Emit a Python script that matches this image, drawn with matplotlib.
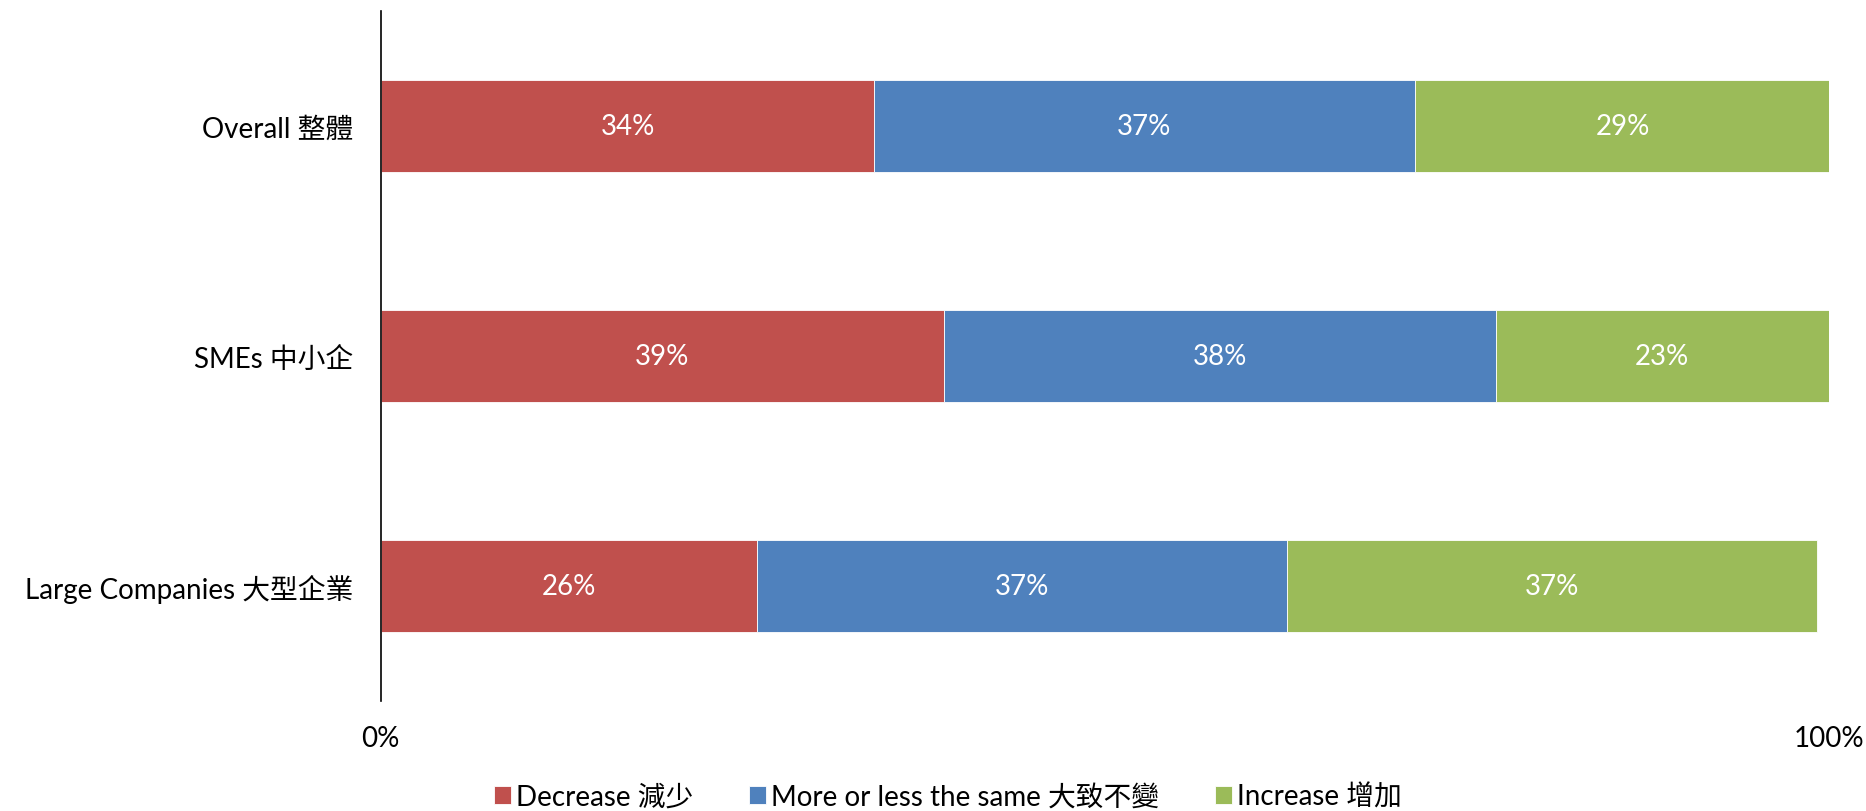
import matplotlib
matplotlib.use('Agg')
import matplotlib.pyplot as plt

plt.rcParams['font.family'] = ['Lato', 'Noto Sans CJK TC', 'DejaVu Sans']

groups = ['Overall 整體', 'SMEs 中小企', 'Large Companies 大型企業']
series = ['Decrease 減少', 'More or less the same 大致不變', 'Increase 增加']
colors = ['#C0504D', '#4F81BD', '#9BBB59']
# shares in percent (bars as drawn in the source, labels rounded)
decrease = [34.1, 38.9, 26.0]
same = [37.3, 38.1, 36.6]
increase = [28.8, 23.0, 36.6]
labels = [[34, 39, 26], [37, 38, 37], [29, 23, 37]]

fs = 20

fig = plt.figure(figsize=(18.66, 8.12), dpi=100)
ax = fig.add_axes([0.204, 0.135, 0.776, 0.85])

y = range(len(groups))
left = [0, 0, 0]
handles = []
for vals, col, name, lab in zip([decrease, same, increase], colors, series, labels):
    bars = ax.barh(y, vals, left=left, height=0.4, color=col, label=name,
                   edgecolor='white', linewidth=0.6)
    handles.append(bars)
    for i, v in enumerate(vals):
        ax.text(left[i] + v / 2, i, '%d%%' % lab[i], ha='center', va='center',
                color='white', fontsize=fs)
    left = [a + b for a, b in zip(left, vals)]

ax.set_ylim(2.5, -0.5)
ax.set_xlim(0, 100)
ax.set_yticks(list(y))
ax.set_yticklabels(groups, fontsize=fs)
ax.set_xticks([0, 100])
ax.set_xticklabels(['0%', '100%'], fontsize=fs)
ax.tick_params(axis='both', length=0)
ax.tick_params(axis='x', pad=17)
ax.tick_params(axis='y', pad=20)
for s in ['top', 'right', 'bottom']:
    ax.spines[s].set_visible(False)
ax.spines['left'].set_linewidth(1.2)

fig.legend(handles=handles, loc='center', bbox_to_anchor=(0.508, 0.018),
           ncol=3, frameon=False, fontsize=fs, handlelength=0.6, handleheight=0.6,
           handletextpad=0.2, columnspacing=2.0)

plt.savefig('out.png', dpi=100)
